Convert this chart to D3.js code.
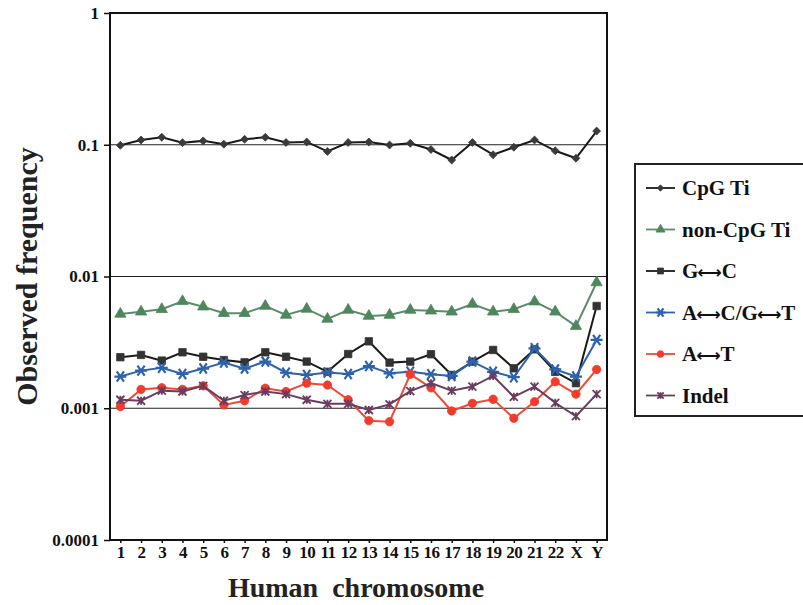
<!DOCTYPE html>
<html>
<head>
<meta charset="utf-8">
<script src="https://cdn.jsdelivr.net/npm/d3@7.9.0/dist/d3.min.js"></script>
<style>
  body { margin: 0; background: #fff; }
  svg { display: block; font-family: "Liberation Serif", "DejaVu Serif", serif; font-weight: bold; }
</style>
</head>
<body>
<svg id="chart" width="803" height="605"></svg>
<script>
// chromosomes on the x axis
const chromosomes = ['1','2','3','4','5','6','7','8','9','10','11','12','13','14','15','16','17','18','19','20','21','22','X','Y'];

// observed frequencies
const cpgTi    = [0.099, 0.1087, 0.114, 0.1037, 0.107, 0.101, 0.110, 0.114, 0.104, 0.105, 0.089, 0.104,
                  0.105, 0.0996, 0.1026, 0.092, 0.0766, 0.104, 0.084, 0.0957, 0.1087, 0.090, 0.079, 0.127];
const nonCpgTi = [0.0052, 0.0054, 0.00564, 0.00648, 0.0059, 0.00526, 0.00526, 0.00597, 0.0051, 0.00567, 0.00476, 0.00557,
                  0.00501, 0.0051, 0.00557, 0.0055, 0.0054, 0.00618, 0.0054, 0.00564, 0.00644, 0.0054, 0.0042, 0.009];
const gc       = [0.00244, 0.00254, 0.0023, 0.00266, 0.00246, 0.00232, 0.00223, 0.00266, 0.00246, 0.00226, 0.00189, 0.00258,
                  0.00322, 0.00222, 0.00226, 0.00257, 0.00179, 0.00226, 0.00277, 0.00201, 0.0028, 0.00189, 0.00155, 0.00597];
const acgt     = [0.00174, 0.00193, 0.00203, 0.00182, 0.002, 0.00222, 0.002, 0.00226, 0.00186, 0.00179, 0.00187, 0.00182,
                  0.00209, 0.00184, 0.00189, 0.00181, 0.00176, 0.00226, 0.00189, 0.00172, 0.00285, 0.00197, 0.00174, 0.0033];
const at       = [0.00103, 0.00139, 0.00143, 0.00139, 0.00148, 0.00106, 0.00114, 0.00142, 0.00134, 0.00155, 0.0015, 0.00116,
                  0.000805, 0.00079, 0.00181, 0.00143, 0.000953, 0.00109, 0.00117, 0.00084, 0.00112, 0.00159, 0.00128, 0.00197];
const indel    = [0.00116, 0.00114, 0.00136, 0.00134, 0.00148, 0.00114, 0.00126, 0.00134, 0.00128, 0.00116, 0.00108, 0.00108,
                  0.00097, 0.00107, 0.00135, 0.00155, 0.00136, 0.00146, 0.00176, 0.00122, 0.00146, 0.0011, 0.00087, 0.00128];

const yTicks = [1, 0.1, 0.01, 0.001, 0.0001];
const yTickLabels = ['1', '0.1', '0.01', '0.001', '0.0001'];

// legend labels, split so the double arrows can get their own font
const seriesLabels = [['CpG Ti'], ['non-CpG Ti'], ['G', '\u27F7', 'C'], ['A', '\u27F7', 'C/G', '\u27F7', 'T'], ['A', '\u27F7', 'T'], ['Indel']];

const series = [
  { values: cpgTi,    color: '#1a1a1a', fill: '#3a3a3a', symbol: d3.symbolDiamond2, size: 40 },
  { values: nonCpgTi, color: '#5d8d68', fill: '#4f875c', symbol: d3.symbolTriangle, size: 55 },
  { values: gc,       color: '#1a1a1a', fill: '#333',    symbol: d3.symbolSquare,   size: 55 },
  { values: acgt,     color: '#2f62ad', fill: '#2f62ad', symbol: 'star',  size: 0 },
  { values: at,       color: '#f04a32', fill: '#f23b2c', symbol: d3.symbolCircle,   size: 55 },
  { values: indel,    color: '#6a3d5e', fill: '#6a3d5e', symbol: 'cross', size: 0 }
];

const svg = d3.select('#chart');
const margin = { left: 110, right: 607, top: 13, bottom: 540 };

const x = d3.scalePoint().domain(chromosomes).range([margin.left, margin.right]).padding(0.5);
const y = d3.scaleLog().domain([0.0001, 1]).range([margin.bottom, margin.top]);

// gridlines
svg.append('g').selectAll('line')
  .data([0.1, 0.01, 0.001])
  .enter().append('line')
    .attr('x1', margin.left).attr('x2', margin.right)
    .attr('y1', d => y(d)).attr('y2', d => y(d))
    .attr('stroke', '#222').attr('stroke-width', 1.2);

// frame
svg.append('rect')
  .attr('x', margin.left).attr('y', margin.top)
  .attr('width', margin.right - margin.left).attr('height', margin.bottom - margin.top)
  .attr('fill', 'none').attr('stroke', '#111').attr('stroke-width', 2);

// y axis
const yAxis = d3.axisLeft(y).tickValues(yTicks).tickFormat((d, i) => yTickLabels[i]).tickSize(6).tickPadding(5);
const yg = svg.append('g').attr('transform', `translate(${margin.left},0)`).call(yAxis);
yg.select('.domain').remove();
yg.selectAll('line').attr('stroke', '#111').attr('stroke-width', 1.5);
yg.selectAll('text').attr('font-size', 17).attr('font-family', '"Liberation Serif", serif').attr('font-weight', 'bold').attr('fill', '#111');

// x axis
const xAxis = d3.axisBottom(x).tickSize(3).tickPadding(3);
const xg = svg.append('g').attr('transform', `translate(0,${margin.bottom})`).call(xAxis);
xg.select('.domain').remove();
xg.selectAll('line').attr('stroke', '#111').attr('stroke-width', 1.5);
xg.selectAll('text').attr('font-size', 17).attr('font-family', '"Liberation Serif", serif').attr('font-weight', 'bold').attr('fill', '#111')
  .attr('letter-spacing', -0.5);

// axis titles
svg.append('text')
  .attr('x', 356).attr('y', 597)
  .attr('text-anchor', 'middle').attr('font-size', 28).attr('fill', '#222')
  .attr('xml:space', 'preserve')
  .text('Human  chromosome');

svg.append('text')
  .attr('transform', `translate(37,${(margin.top + margin.bottom) / 2}) rotate(-90)`)
  .attr('text-anchor', 'middle').attr('font-size', 30).attr('fill', '#222')
  .text('Observed frequency');

// marker drawing
function drawMarker(g, s, px, py, scale) {
  const k = scale || 1;
  if (s.symbol === 'star') {
    const r = 6 * k;
    const p = `M${px - r},${py}L${px + r},${py}` +
              `M${px - r * 0.6},${py - r * 0.85}L${px + r * 0.6},${py + r * 0.85}` +
              `M${px - r * 0.6},${py + r * 0.85}L${px + r * 0.6},${py - r * 0.85}`;
    g.append('path').attr('d', p).attr('stroke', s.fill).attr('stroke-width', 2.2).attr('fill', 'none');
  } else if (s.symbol === 'cross') {
    const r = 4 * k;
    const p = `M${px - r},${py - r}L${px + r},${py + r}M${px - r},${py + r}L${px + r},${py - r}M${px},${py - r}L${px},${py + r}`;
    g.append('path').attr('d', p).attr('stroke', s.fill).attr('stroke-width', 1.8).attr('fill', 'none');
  } else {
    g.append('path')
      .attr('d', d3.symbol().type(s.symbol).size(s.size * k * k)())
      .attr('transform', `translate(${px},${py})`)
      .attr('fill', s.fill).attr('stroke', s.fill).attr('stroke-width', 0.8);
  }
}

const line = d3.line().x((d, i) => x(chromosomes[i])).y(d => y(d));

const plot = svg.append('g');
series.forEach(s => {
  plot.append('path')
    .datum(s.values)
    .attr('d', line)
    .attr('fill', 'none')
    .attr('stroke', s.color)
    .attr('stroke-width', 2);
  const mg = plot.append('g');
  s.values.forEach((v, i) => drawMarker(mg, s, x(chromosomes[i]), y(v)));
});

// legend
const legend = svg.append('g');
legend.append('rect')
  .attr('x', 635).attr('y', 164).attr('width', 200).attr('height', 252)
  .attr('fill', '#fff').attr('stroke', '#222').attr('stroke-width', 2);

series.forEach((s, i) => {
  const ly = 188 + i * 41.5;
  legend.append('line')
    .attr('x1', 646).attr('x2', 675).attr('y1', ly).attr('y2', ly)
    .attr('stroke', s.color).attr('stroke-width', 1.8);
  drawMarker(legend, s, 660.5, ly, 0.8);
  const t = legend.append('text')
    .attr('x', 682).attr('y', ly + 7)
    .attr('font-size', 21).attr('fill', '#111');
  seriesLabels[i].forEach(part => {
    const ts = t.append('tspan').text(part);
    if (part === '\u27F7') ts.attr('font-family', '"DejaVu Sans", sans-serif').attr('font-size', 17).attr('dx', -1);
  });
});
</script>
</body>
</html>
